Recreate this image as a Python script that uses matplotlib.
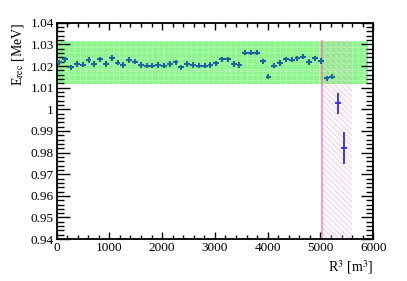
import numpy as np
import matplotlib
matplotlib.use("Agg")
import matplotlib.pyplot as plt
from matplotlib.patches import Rectangle
from matplotlib.ticker import MultipleLocator

# bin centres in R^3 [m^3] and reconstructed energy per bin
r3_in = [55 + 110 * i for i in range(48)]
e_in = [1.0217, 1.0232, 1.0194, 1.0209, 1.0206, 1.0228, 1.0209, 1.0232, 1.0209, 1.0237,
        1.0215, 1.0205, 1.0228, 1.0220, 1.0205, 1.0201, 1.0201, 1.0205, 1.0201, 1.0209,
        1.0217, 1.0194, 1.0209, 1.0205, 1.0201, 1.0201, 1.0205, 1.0213, 1.0231, 1.0232,
        1.0209, 1.0205, 1.0262, 1.0262, 1.0262, 1.0221, 1.0151, 1.0201, 1.0214, 1.0232,
        1.0230, 1.0235, 1.0244, 1.0219, 1.0236, 1.0223, 1.0144, 1.0150]
err_in = 0.0012

r3_out = [5335, 5445]
e_out = [1.0027, 0.9822]
err_out = [0.0050, 0.0075]

band_lo, band_hi = 1.0115, 1.0315
band_x = (0, 5900)
excl_x = (5020, 5600)

plt.rcParams["font.family"] = ["Liberation Serif", "DejaVu Serif"]
plt.rcParams["mathtext.fontset"] = "stix"
plt.rcParams["hatch.linewidth"] = 0.5

fig = plt.figure(figsize=(4.07, 2.81), dpi=100)
ax = fig.add_axes([0.139, 0.149, 0.778, 0.770])

# accepted band
ax.add_patch(Rectangle((band_x[0], band_lo), band_x[1] - band_x[0], band_hi - band_lo,
                       facecolor="#8ef58e", edgecolor="#b4ffb4", hatch="+++", lw=0, zorder=1))
ax.axhline(1.0177, xmin=0, xmax=(band_x[1]) / 6000, color="#d8ffd8", lw=0.8, ls=":", zorder=1.5)

# excluded volume
ax.add_patch(Rectangle((excl_x[0], 0.94), excl_x[1] - excl_x[0], band_hi - 0.94,
                       facecolor="none", edgecolor="#ff8fd2", hatch="\\\\\\\\\\\\", lw=0,
                       alpha=0.7, zorder=2))
ax.plot([excl_x[0], excl_x[0]], [0.94, band_hi], color="#ff69b4", lw=1.2, alpha=0.8, zorder=2)

ax.errorbar(r3_in, e_in, xerr=55, yerr=err_in, fmt="none", ecolor="#1e64a0",
            elinewidth=1.5, capsize=0, zorder=3)
ax.errorbar(r3_out, e_out, xerr=55, yerr=err_out, fmt="none", ecolor="#2a2aff",
            elinewidth=1.3, capsize=0, zorder=3)

ax.set_xlim(0, 6000)
ax.set_ylim(0.94, 1.04)
ax.xaxis.set_major_locator(MultipleLocator(1000))
ax.xaxis.set_minor_locator(MultipleLocator(200))
ax.yaxis.set_major_locator(MultipleLocator(0.01))
ax.yaxis.set_minor_locator(MultipleLocator(0.002))
ax.set_yticks(np.arange(0.94, 1.0401, 0.01))
ax.set_yticklabels(["0.94", "0.95", "0.96", "0.97", "0.98", "0.99", "1",
                    "1.01", "1.02", "1.03", "1.04"])

ax.tick_params(which="both", direction="in", top=True, right=True, labelsize=9.5,
               width=1.0, pad=2)
ax.tick_params(axis="x", which="major", length=5)
ax.tick_params(axis="x", which="minor", length=3)
ax.tick_params(axis="y", which="major", length=9)
ax.tick_params(axis="y", which="minor", length=5)
for s in ax.spines.values():
    s.set_linewidth(1.3)

ax.set_xlabel(r"R$^3$ [m$^3$]", fontsize=10, loc="right", labelpad=3)
ax.set_ylabel(r"E$_{\rm rec}$ [MeV]", fontsize=10, loc="top", labelpad=3)

fig.savefig("out.png", dpi=100)
